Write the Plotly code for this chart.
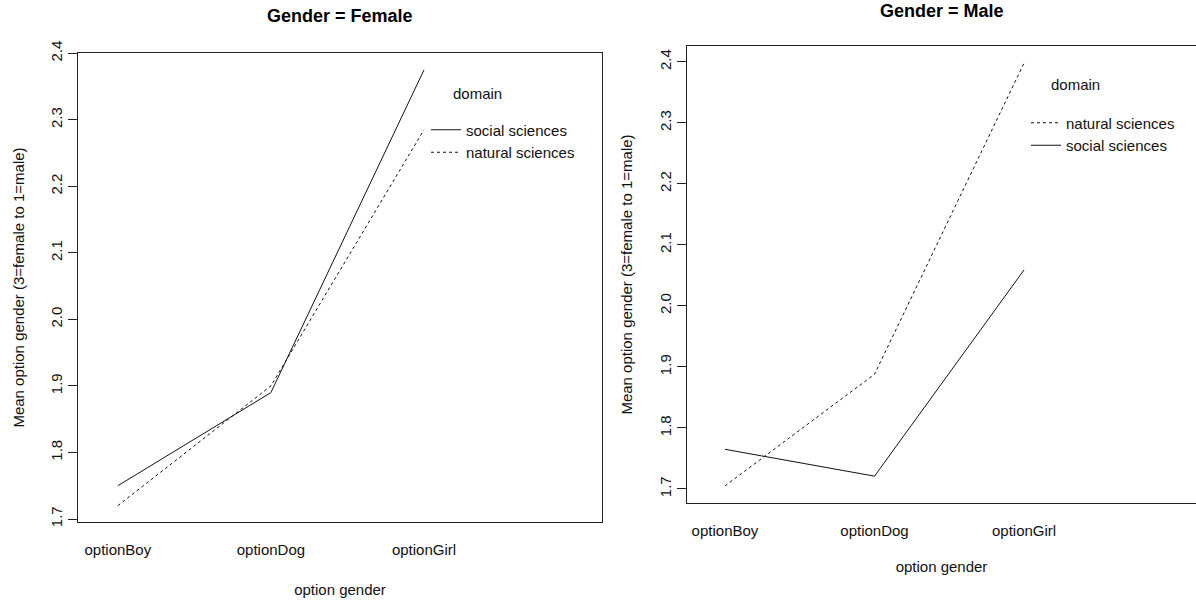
import plotly.graph_objects as go

# ---------------- data ----------------
categories = ["optionBoy", "optionDog", "optionGirl"]
female_social = [1.75, 1.89, 2.375]
female_natural = [1.72, 1.90, 2.285]
male_natural = [1.705, 1.888, 2.398]
male_social = [1.765, 1.721, 2.059]
y_ticks = [1.7, 1.8, 1.9, 2.0, 2.1, 2.2, 2.3, 2.4]
y_tick_labels = ["1.7", "1.8", "1.9", "2.0", "2.1", "2.2", "2.3", "2.4"]
panel_titles = ["Gender = Female", "Gender = Male"]
legend_title = "domain"
x_title = "option gender"
y_title = "Mean option gender (3=female to 1=male)"

# ---------------- layout helpers ----------------
W, H = 1196, 600
FONT = "Liberation Sans, Arial, Helvetica, sans-serif"
def px(x):
    return x / W
def py(y):
    return 1 - y / H

fig = go.Figure()

def add_line(name, ys, xa, ya, leg, dash):
    fig.add_trace(go.Scatter(
        x=categories, y=ys, mode="lines", name=name,
        xaxis=xa, yaxis=ya, legend=leg,
        line=dict(color="#111111", width=1, dash=dash),
        hoverinfo="x+y+name",
    ))

# left panel: social first in legend
add_line("social sciences", female_social, "x", "y", "legend", "solid")
add_line("natural sciences", female_natural, "x", "y", "legend", "3px,3px")
# right panel: natural first in legend
add_line("natural sciences", male_natural, "x2", "y2", "legend2", "3px,3px")
add_line("social sciences", male_social, "x2", "y2", "legend2", "solid")

xcommon = dict(
    type="category", showline=True, mirror=True, linecolor="#222", linewidth=1,
    ticks="outside", ticklen=14, tickcolor="rgba(0,0,0,0)",
    tickfont=dict(size=15, color="#111", family=FONT),
    showgrid=False, zeroline=False, fixedrange=True, automargin=False,
)
ycommon = dict(
    tickmode="array", tickvals=y_ticks, ticktext=y_tick_labels, tickangle=-90,
    ticks="outside", ticklen=9, tickcolor="#222", tickwidth=1,
    showline=True, linecolor="#222", linewidth=1,
    tickfont=dict(size=15, color="#111", family=FONT),
    showgrid=False, zeroline=False, fixedrange=True, automargin=False,
)

fig.update_layout(
    width=W, height=H,
    margin=dict(l=0, r=0, t=0, b=0, autoexpand=False),
    paper_bgcolor="white", plot_bgcolor="white",
    font=dict(family=FONT, size=15, color="#111"),
    xaxis=dict(xcommon, domain=[px(78), px(602)], range=[-0.26, 3.163],
               anchor="y",
               title=dict(text=x_title, standoff=27, font=dict(size=15))),
    yaxis=dict(ycommon, domain=[py(522), py(53)], range=[1.6955, 2.4005],
               anchor="x", mirror=True,
               title=dict(text=y_title, standoff=19, font=dict(size=15))),
    xaxis2=dict(xcommon, domain=[px(687), 1.0], range=[-0.254, 3.15],
                anchor="y2",
                title=dict(text=x_title, standoff=23, font=dict(size=15))),
    yaxis2=dict(ycommon, domain=[py(503), py(46)], range=[1.677, 2.426],
                anchor="x2", mirror=False,
                title=dict(text=y_title, standoff=20, font=dict(size=15))),
    legend=dict(x=px(426), y=py(113.5), xanchor="left", yanchor="top",
                bgcolor="rgba(0,0,0,0)", borderwidth=0, itemwidth=30,
                font=dict(size=15, color="#111", family=FONT),
                traceorder="normal", tracegroupgap=0),
    legend2=dict(x=px(1026), y=py(106.5), xanchor="left", yanchor="top",
                 bgcolor="rgba(0,0,0,0)", borderwidth=0, itemwidth=30,
                 font=dict(size=15, color="#111", family=FONT),
                 traceorder="normal", tracegroupgap=0),
    showlegend=True,
    annotations=[
        dict(text="<b>" + panel_titles[0] + "</b>", x=px(340), y=py(16),
             xref="paper", yref="paper", showarrow=False,
             xanchor="center", yanchor="middle",
             font=dict(size=18, color="#000", family=FONT)),
        dict(text="<b>" + panel_titles[1] + "</b>", x=px(942), y=py(11),
             xref="paper", yref="paper", showarrow=False,
             xanchor="center", yanchor="middle",
             font=dict(size=18, color="#000", family=FONT)),
        dict(text=legend_title, x=px(477), y=py(93), xref="paper", yref="paper",
             showarrow=False, xanchor="center", yanchor="middle",
             font=dict(size=15, color="#111", family=FONT)),
        dict(text=legend_title, x=px(1075), y=py(84), xref="paper", yref="paper",
             showarrow=False, xanchor="center", yanchor="middle",
             font=dict(size=15, color="#111", family=FONT)),
    ],
)

fig.write_html("out.html",
               config={"displayModeBar": False},
               post_script="document.body.style.margin='0';document.body.style.overflow='hidden';")
